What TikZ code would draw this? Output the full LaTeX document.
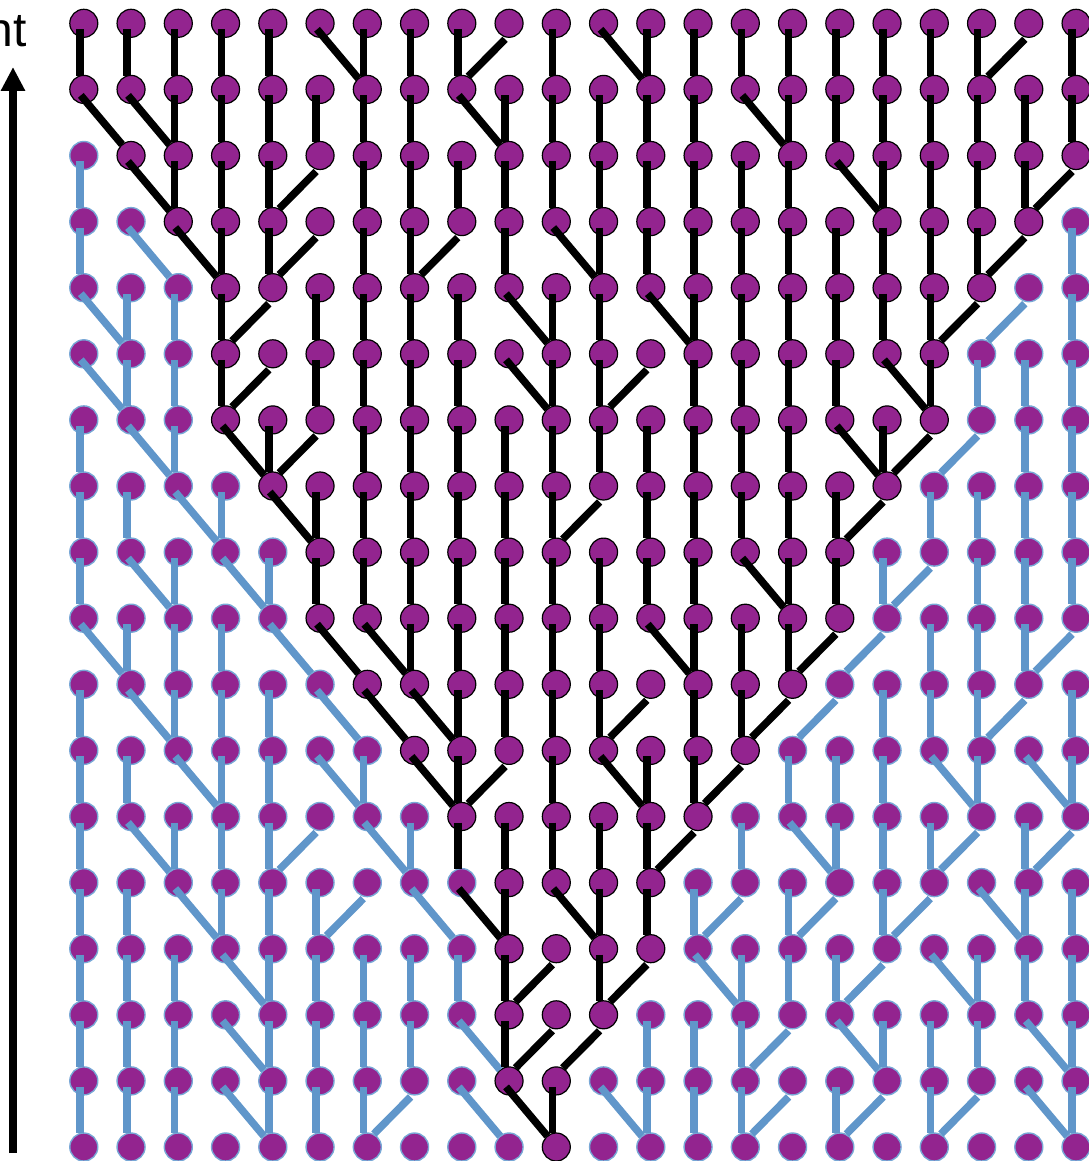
\documentclass[tikz,border=0pt]{standalone}
\usepackage{fontspec}
\setmainfont{Liberation Sans}
\usetikzlibrary{arrows.meta}
\definecolor{nodepurple}{RGB}{147,36,143}
\definecolor{edgeblue}{RGB}{96,150,202}
\definecolor{rimblue}{RGB}{120,168,214}
\tikzset{
  dotK/.style={circle, inner sep=0, minimum size=28, fill=nodepurple, draw=black, line width=1.2},
  dotB/.style={circle, inner sep=0, minimum size=28, fill=nodepurple, draw=rimblue, line width=1.4},
  lineK/.style={line width=7.5, black},
  lineB/.style={line width=7.5, edgeblue},
  timearrow/.style={line width=8, -{Triangle[length=24pt,width=23pt]}}
}
\newcommand{\gedge}[5]{%
  \pgfmathtruncatemacro{\gi}{#1+1}%
  \pgfmathtruncatemacro{\gk}{#2+#3}%
  \pgfmathtruncatemacro{\gin}{and(#2>#4-1,#2<#5+1)}%
  \ifnum\gin=1 \def\gcol{lineK}\else\def\gcol{lineB}\fi
  \ifnum#3=0 \draw[\gcol] ([shift={(-4,6)}]n-#1-#2.center) -- ([shift={(-4,-13.8)}]n-\gi-\gk.center);\fi
  \ifnum#3=1 \draw[\gcol] ([shift={(-3,6)}]n-#1-#2.center) -- ([shift={(-9,-11)}]n-\gi-\gk.center);\fi
  \ifnum#3=-1 \draw[\gcol] ([shift={(-4,16)}]n-#1-#2.center) -- ([shift={(6.5,-13)}]n-\gi-\gk.center);\fi
}
\begin{document}
\begin{tikzpicture}[x=1pt,y=-1pt]
\useasboundingbox (0,0) rectangle (1088,1161);
% nodes
\foreach \i/\a/\b in {0/0/21,1/0/21,2/1/21,3/2/20,4/3/19,5/3/18,6/3/18,7/4/17,8/5/16,9/5/16,10/6/15,11/7/14,12/8/13,13/8/12,14/9/12,15/9/11,16/9/10,17/10/10}{
  \foreach \j in {0,...,21}{
    \pgfmathtruncatemacro{\gnk}{and(\j>\a-1,\j<\b+1)*(1-and(\i==13,\j==8))}
    \ifnum\gnk=1 \def\gst{dotK}\else\def\gst{dotB}\fi
    \node[\gst] (n-\i-\j) at ({83.8+47.25*\j},{23.3+66.1*\i}) {};
  }
}
% edges (offset of parent column: -1 left, 0 straight, 1 right)
\foreach \dd [count=\j from 0] in {0,0,0,0,0,1,0,0,0,-1,0,1,0,0,0,0,0,0,0,0,-1,0}{\gedge{0}{\j}{\dd}{0}{21}}
\foreach \dd [count=\j from 0] in {1,1,0,0,0,0,0,0,1,0,0,0,0,0,1,0,0,0,0,0,0,0}{\gedge{1}{\j}{\dd}{0}{21}}
\foreach \dd [count=\j from 0] in {0,1,0,0,0,-1,0,0,0,0,0,0,0,0,0,0,1,0,0,0,0,-1}{\gedge{2}{\j}{\dd}{1}{21}}
\foreach \dd [count=\j from 0] in {0,1,1,0,0,-1,0,0,-1,0,1,0,0,0,0,0,0,0,0,0,-1,0}{\gedge{3}{\j}{\dd}{2}{20}}
\foreach \dd [count=\j from 0] in {1,0,0,0,-1,0,0,0,0,1,0,0,1,0,0,0,0,0,0,-1,-1,0}{\gedge{4}{\j}{\dd}{3}{19}}
\foreach \dd [count=\j from 0] in {1,0,0,0,-1,0,0,0,0,1,0,0,-1,0,0,0,0,1,0,0,0,0}{\gedge{5}{\j}{\dd}{3}{18}}
\foreach \dd [count=\j from 0] in {0,1,0,1,0,-1,0,0,0,0,0,0,0,0,0,0,1,0,-1,-1,0,0}{\gedge{6}{\j}{\dd}{3}{18}}
\foreach \dd [count=\j from 0] in {0,0,1,0,1,0,0,0,0,0,0,-1,0,0,0,0,0,-1,0,0,0,0}{\gedge{7}{\j}{\dd}{4}{17}}
\foreach \dd [count=\j from 0] in {0,1,0,1,0,0,0,0,0,0,0,0,0,0,1,0,0,0,-1,0,0,0}{\gedge{8}{\j}{\dd}{5}{16}}
\foreach \dd [count=\j from 0] in {1,0,0,0,1,1,1,0,0,0,0,0,1,0,0,0,-1,-1,0,0,0,-1}{\gedge{9}{\j}{\dd}{5}{16}}
\foreach \dd [count=\j from 0] in {0,1,0,0,0,1,1,1,0,0,0,0,-1,0,0,-1,-1,0,0,0,-1,0}{\gedge{10}{\j}{\dd}{6}{15}}
\foreach \dd [count=\j from 0] in {0,0,1,0,0,1,0,1,0,-1,0,1,0,0,-1,0,0,0,1,0,1,0}{\gedge{11}{\j}{\dd}{7}{14}}
\foreach \dd [count=\j from 0] in {0,1,0,0,0,-1,1,0,0,0,0,0,0,-1,0,1,0,0,0,-1,0,-1}{\gedge{12}{\j}{\dd}{8}{13}}
\foreach \dd [count=\j from 0] in {0,0,1,0,0,0,-1,1,1,0,1,0,0,0,-1,0,-1,0,-1,1,0,0}{\gedge{13}{\j}{\dd}{8}{12}}
\foreach \dd [count=\j from 0] in {0,0,0,1,0,0,0,0,0,0,-1,0,-1,1,0,0,0,-1,1,0,0,0}{\gedge{14}{\j}{\dd}{9}{12}}
\foreach \dd [count=\j from 0] in {0,0,0,1,0,0,0,0,1,0,-1,-1,0,0,0,-1,1,0,0,0,1,0}{\gedge{15}{\j}{\dd}{9}{11}}
\foreach \dd [count=\j from 0] in {0,0,0,1,0,0,0,-1,1,1,0,1,0,0,0,-1,0,-1,0,-1,1,0}{\gedge{16}{\j}{\dd}{9}{10}}
% time arrow and label
\coordinate (tbot) at (13,1153);
\coordinate (ttop) at (13,67);
\draw[timearrow] (tbot) -- (ttop);
\node[anchor=base east, inner sep=0, font=\fontsize{48}{50}\selectfont] (tlabel) at (27,47) {nt};
\end{tikzpicture}
\end{document}
